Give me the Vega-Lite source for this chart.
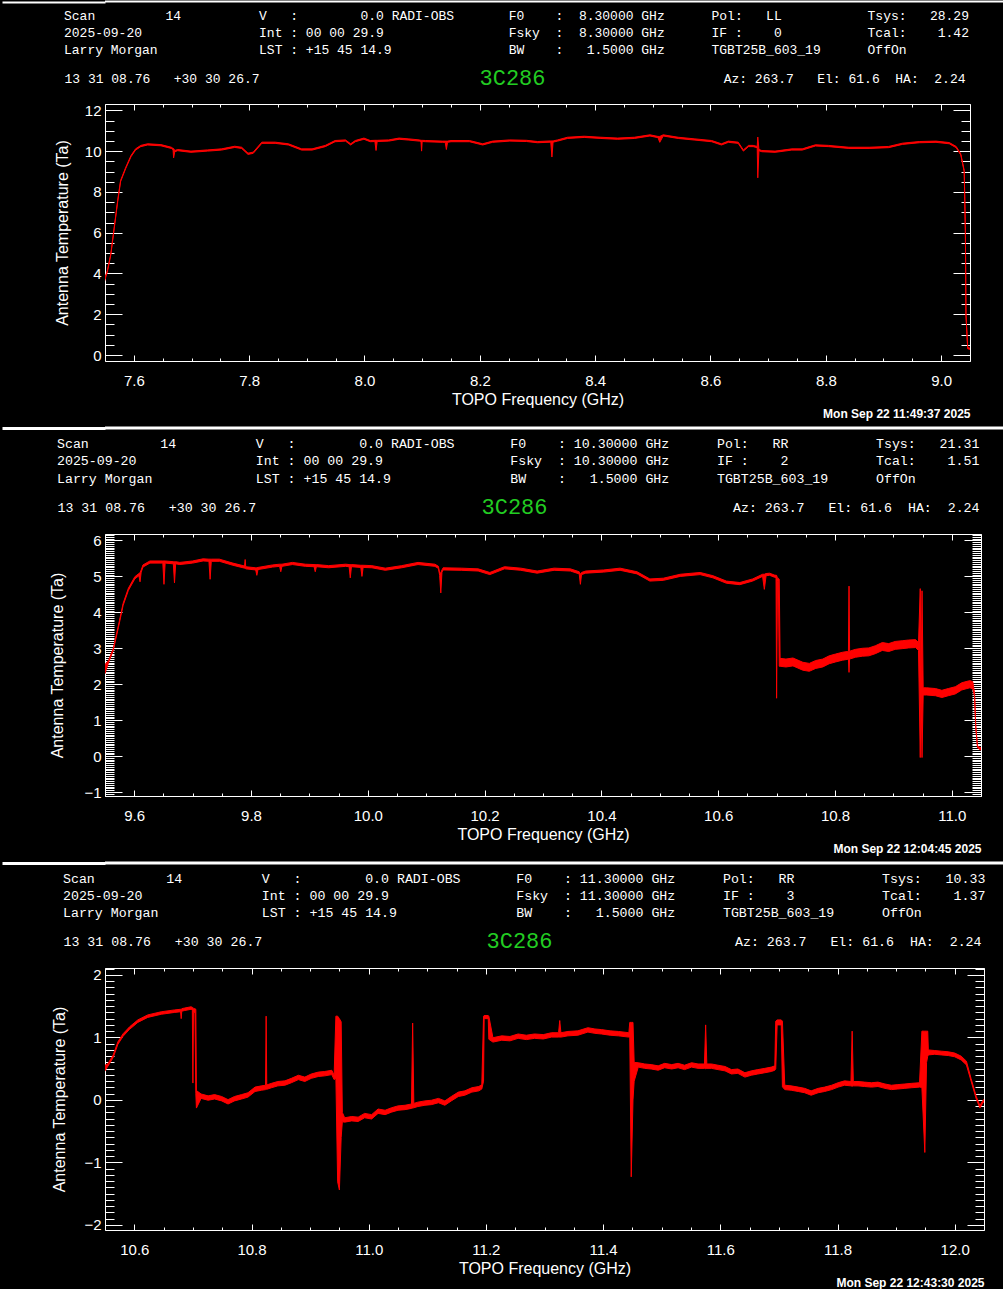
{
  "$schema": "https://vega.github.io/schema/vega-lite/v6.json",
  "background": "black",
  "padding": 0,
  "spacing": 6,
  "config": {
    "view": {"stroke": "white", "strokeWidth": 1},
    "axis": {"labelColor": "white", "titleColor": "white", "tickColor": "white", "domain": false, "grid": false, "labelFont": "Liberation Sans", "labelFontSize": 15, "titleFont": "Liberation Sans", "titleFontSize": 16, "titleFontWeight": "normal", "labelFlush": false, "labelOverlap": false, "tickWidth": 1}
  },
  "datasets": {
    "p1": [
      {"f": 7.549, "lo": 3.60, "hi": 3.75}, {"f": 7.554, "lo": 4.07, "hi": 4.13}, {"f": 7.560, "lo": 4.90, "hi": 4.96}, {"f": 7.566, "lo": 6.21, "hi": 6.27}, {"f": 7.572, "lo": 7.52, "hi": 7.58}, {"f": 7.577, "lo": 8.50, "hi": 8.56}, {"f": 7.586, "lo": 9.15, "hi": 9.21}, {"f": 7.595, "lo": 9.72, "hi": 9.78}, {"f": 7.603, "lo": 10.05, "hi": 10.11}, {"f": 7.612, "lo": 10.22, "hi": 10.28}, {"f": 7.624, "lo": 10.30, "hi": 10.36}, {"f": 7.647, "lo": 10.26, "hi": 10.32}, {"f": 7.665, "lo": 10.13, "hi": 10.19}, {"f": 7.668, "lo": 10.07, "hi": 10.13}, {"f": 7.669, "lo": 9.67, "hi": 10.13}, {"f": 7.671, "lo": 9.97, "hi": 10.03}, {"f": 7.676, "lo": 10.02, "hi": 10.08}, {"f": 7.699, "lo": 9.94, "hi": 10.00}, {"f": 7.728, "lo": 10.00, "hi": 10.06}, {"f": 7.752, "lo": 10.05, "hi": 10.11}, {"f": 7.775, "lo": 10.18, "hi": 10.24}, {"f": 7.787, "lo": 10.13, "hi": 10.19}, {"f": 7.798, "lo": 9.84, "hi": 9.90}, {"f": 7.807, "lo": 9.89, "hi": 9.95}, {"f": 7.822, "lo": 10.38, "hi": 10.44}, {"f": 7.845, "lo": 10.38, "hi": 10.44}, {"f": 7.868, "lo": 10.30, "hi": 10.36}, {"f": 7.891, "lo": 10.05, "hi": 10.11}, {"f": 7.909, "lo": 10.05, "hi": 10.11}, {"f": 7.932, "lo": 10.22, "hi": 10.28}, {"f": 7.949, "lo": 10.46, "hi": 10.52}, {"f": 7.967, "lo": 10.49, "hi": 10.55}, {"f": 7.976, "lo": 10.30, "hi": 10.36}, {"f": 7.984, "lo": 10.46, "hi": 10.52}, {"f": 7.999, "lo": 10.58, "hi": 10.64}, {"f": 8.010, "lo": 10.46, "hi": 10.52}, {"f": 8.018, "lo": 10.47, "hi": 10.53}, {"f": 8.020, "lo": 10.03, "hi": 10.53}, {"f": 8.022, "lo": 10.47, "hi": 10.53}, {"f": 8.042, "lo": 10.49, "hi": 10.55}, {"f": 8.060, "lo": 10.58, "hi": 10.64}, {"f": 8.077, "lo": 10.54, "hi": 10.60}, {"f": 8.095, "lo": 10.49, "hi": 10.55}, {"f": 8.098, "lo": 10.47, "hi": 10.53}, {"f": 8.099, "lo": 10.00, "hi": 10.53}, {"f": 8.100, "lo": 10.47, "hi": 10.53}, {"f": 8.106, "lo": 10.46, "hi": 10.52}, {"f": 8.135, "lo": 10.43, "hi": 10.49}, {"f": 8.140, "lo": 10.43, "hi": 10.49}, {"f": 8.142, "lo": 10.08, "hi": 10.49}, {"f": 8.144, "lo": 10.43, "hi": 10.49}, {"f": 8.150, "lo": 10.46, "hi": 10.52}, {"f": 8.182, "lo": 10.46, "hi": 10.52}, {"f": 8.205, "lo": 10.30, "hi": 10.36}, {"f": 8.222, "lo": 10.43, "hi": 10.49}, {"f": 8.252, "lo": 10.49, "hi": 10.55}, {"f": 8.281, "lo": 10.47, "hi": 10.53}, {"f": 8.300, "lo": 10.41, "hi": 10.47}, {"f": 8.323, "lo": 10.44, "hi": 10.50}, {"f": 8.325, "lo": 9.71, "hi": 10.50}, {"f": 8.327, "lo": 10.44, "hi": 10.50}, {"f": 8.335, "lo": 10.49, "hi": 10.55}, {"f": 8.352, "lo": 10.62, "hi": 10.68}, {"f": 8.381, "lo": 10.67, "hi": 10.73}, {"f": 8.410, "lo": 10.62, "hi": 10.68}, {"f": 8.439, "lo": 10.58, "hi": 10.64}, {"f": 8.468, "lo": 10.62, "hi": 10.68}, {"f": 8.495, "lo": 10.74, "hi": 10.80}, {"f": 8.509, "lo": 10.66, "hi": 10.72}, {"f": 8.512, "lo": 10.43, "hi": 10.72}, {"f": 8.518, "lo": 10.74, "hi": 10.80}, {"f": 8.544, "lo": 10.62, "hi": 10.68}, {"f": 8.573, "lo": 10.54, "hi": 10.60}, {"f": 8.602, "lo": 10.46, "hi": 10.52}, {"f": 8.619, "lo": 10.30, "hi": 10.36}, {"f": 8.631, "lo": 10.43, "hi": 10.49}, {"f": 8.648, "lo": 10.38, "hi": 10.44}, {"f": 8.657, "lo": 10.00, "hi": 10.06}, {"f": 8.666, "lo": 10.22, "hi": 10.28}, {"f": 8.674, "lo": 10.22, "hi": 10.28}, {"f": 8.681, "lo": 10.17, "hi": 10.23}, {"f": 8.682, "lo": 8.69, "hi": 10.69}, {"f": 8.684, "lo": 10.02, "hi": 10.08}, {"f": 8.689, "lo": 9.97, "hi": 10.03}, {"f": 8.712, "lo": 9.94, "hi": 10.00}, {"f": 8.741, "lo": 10.05, "hi": 10.11}, {"f": 8.759, "lo": 10.05, "hi": 10.11}, {"f": 8.782, "lo": 10.25, "hi": 10.31}, {"f": 8.805, "lo": 10.22, "hi": 10.28}, {"f": 8.840, "lo": 10.13, "hi": 10.19}, {"f": 8.875, "lo": 10.13, "hi": 10.19}, {"f": 8.909, "lo": 10.17, "hi": 10.23}, {"f": 8.933, "lo": 10.33, "hi": 10.39}, {"f": 8.962, "lo": 10.41, "hi": 10.47}, {"f": 8.991, "lo": 10.43, "hi": 10.49}, {"f": 9.014, "lo": 10.36, "hi": 10.42}, {"f": 9.026, "lo": 10.17, "hi": 10.23}, {"f": 9.034, "lo": 9.81, "hi": 9.87}, {"f": 9.040, "lo": 8.99, "hi": 9.05}, {"f": 9.042, "lo": 6.04, "hi": 6.10}, {"f": 9.043, "lo": 1.95, "hi": 2.01}, {"f": 9.046, "lo": 0.31, "hi": 0.37}, {"f": 9.050, "lo": 0.28, "hi": 0.34}
    ],
    "p2": [
      {"f": 9.550, "lo": 2.30, "hi": 2.55}, {"f": 9.556, "lo": 2.60, "hi": 2.66}, {"f": 9.564, "lo": 2.93, "hi": 2.99}, {"f": 9.573, "lo": 3.58, "hi": 3.64}, {"f": 9.581, "lo": 4.19, "hi": 4.25}, {"f": 9.590, "lo": 4.61, "hi": 4.67}, {"f": 9.601, "lo": 4.93, "hi": 4.99}, {"f": 9.608, "lo": 5.02, "hi": 5.08}, {"f": 9.610, "lo": 4.85, "hi": 5.10}, {"f": 9.612, "lo": 5.12, "hi": 5.18}, {"f": 9.615, "lo": 5.26, "hi": 5.32}, {"f": 9.627, "lo": 5.37, "hi": 5.43}, {"f": 9.649, "lo": 5.37, "hi": 5.43}, {"f": 9.651, "lo": 4.78, "hi": 5.43}, {"f": 9.653, "lo": 5.37, "hi": 5.43}, {"f": 9.667, "lo": 5.35, "hi": 5.41}, {"f": 9.669, "lo": 4.82, "hi": 5.41}, {"f": 9.671, "lo": 5.35, "hi": 5.41}, {"f": 9.678, "lo": 5.33, "hi": 5.39}, {"f": 9.700, "lo": 5.37, "hi": 5.43}, {"f": 9.718, "lo": 5.43, "hi": 5.49}, {"f": 9.728, "lo": 5.42, "hi": 5.48}, {"f": 9.730, "lo": 4.92, "hi": 5.48}, {"f": 9.732, "lo": 5.42, "hi": 5.48}, {"f": 9.746, "lo": 5.42, "hi": 5.48}, {"f": 9.769, "lo": 5.31, "hi": 5.37}, {"f": 9.789, "lo": 5.23, "hi": 5.29}, {"f": 9.790, "lo": 5.23, "hi": 5.47}, {"f": 9.791, "lo": 5.21, "hi": 5.27}, {"f": 9.808, "lo": 5.18, "hi": 5.24}, {"f": 9.810, "lo": 5.03, "hi": 5.24}, {"f": 9.812, "lo": 5.19, "hi": 5.25}, {"f": 9.837, "lo": 5.26, "hi": 5.32}, {"f": 9.849, "lo": 5.28, "hi": 5.34}, {"f": 9.851, "lo": 5.13, "hi": 5.34}, {"f": 9.853, "lo": 5.28, "hi": 5.34}, {"f": 9.871, "lo": 5.33, "hi": 5.39}, {"f": 9.893, "lo": 5.28, "hi": 5.34}, {"f": 9.908, "lo": 5.27, "hi": 5.33}, {"f": 9.910, "lo": 5.13, "hi": 5.33}, {"f": 9.912, "lo": 5.27, "hi": 5.33}, {"f": 9.933, "lo": 5.24, "hi": 5.30}, {"f": 9.962, "lo": 5.28, "hi": 5.34}, {"f": 9.968, "lo": 5.27, "hi": 5.33}, {"f": 9.970, "lo": 4.96, "hi": 5.33}, {"f": 9.972, "lo": 5.27, "hi": 5.33}, {"f": 9.988, "lo": 5.25, "hi": 5.31}, {"f": 9.990, "lo": 5.00, "hi": 5.31}, {"f": 9.992, "lo": 5.25, "hi": 5.31}, {"f": 10.007, "lo": 5.24, "hi": 5.30}, {"f": 10.030, "lo": 5.17, "hi": 5.23}, {"f": 10.058, "lo": 5.24, "hi": 5.30}, {"f": 10.086, "lo": 5.33, "hi": 5.39}, {"f": 10.115, "lo": 5.28, "hi": 5.34}, {"f": 10.121, "lo": 5.22, "hi": 5.28}, {"f": 10.123, "lo": 5.03, "hi": 5.09}, {"f": 10.125, "lo": 4.54, "hi": 5.10}, {"f": 10.127, "lo": 5.12, "hi": 5.18}, {"f": 10.129, "lo": 5.18, "hi": 5.24}, {"f": 10.160, "lo": 5.17, "hi": 5.23}, {"f": 10.189, "lo": 5.15, "hi": 5.21}, {"f": 10.209, "lo": 5.05, "hi": 5.11}, {"f": 10.234, "lo": 5.21, "hi": 5.27}, {"f": 10.262, "lo": 5.17, "hi": 5.23}, {"f": 10.290, "lo": 5.09, "hi": 5.15}, {"f": 10.319, "lo": 5.17, "hi": 5.23}, {"f": 10.347, "lo": 5.15, "hi": 5.21}, {"f": 10.362, "lo": 5.07, "hi": 5.13}, {"f": 10.364, "lo": 4.78, "hi": 5.06}, {"f": 10.366, "lo": 5.05, "hi": 5.11}, {"f": 10.373, "lo": 5.09, "hi": 5.15}, {"f": 10.404, "lo": 5.12, "hi": 5.18}, {"f": 10.432, "lo": 5.17, "hi": 5.23}, {"f": 10.461, "lo": 5.07, "hi": 5.13}, {"f": 10.483, "lo": 4.87, "hi": 4.93}, {"f": 10.506, "lo": 4.89, "hi": 4.95}, {"f": 10.535, "lo": 5.00, "hi": 5.06}, {"f": 10.569, "lo": 5.05, "hi": 5.11}, {"f": 10.591, "lo": 4.96, "hi": 5.02}, {"f": 10.614, "lo": 4.81, "hi": 4.87}, {"f": 10.637, "lo": 4.77, "hi": 4.83}, {"f": 10.659, "lo": 4.87, "hi": 4.93}, {"f": 10.676, "lo": 5.00, "hi": 5.06}, {"f": 10.679, "lo": 4.64, "hi": 5.06}, {"f": 10.682, "lo": 5.02, "hi": 5.08}, {"f": 10.688, "lo": 5.03, "hi": 5.09}, {"f": 10.696, "lo": 4.98, "hi": 5.04}, {"f": 10.699, "lo": 4.97, "hi": 5.03}, {"f": 10.700, "lo": 1.61, "hi": 5.03}, {"f": 10.7015, "lo": 4.85, "hi": 4.95}, {"f": 10.703, "lo": 4.85, "hi": 4.95}, {"f": 10.7045, "lo": 2.50, "hi": 4.92}, {"f": 10.706, "lo": 2.50, "hi": 2.72}, {"f": 10.716, "lo": 2.48, "hi": 2.70}, {"f": 10.728, "lo": 2.51, "hi": 2.73}, {"f": 10.745, "lo": 2.39, "hi": 2.61}, {"f": 10.756, "lo": 2.36, "hi": 2.58}, {"f": 10.767, "lo": 2.44, "hi": 2.66}, {"f": 10.779, "lo": 2.48, "hi": 2.70}, {"f": 10.790, "lo": 2.57, "hi": 2.79}, {"f": 10.801, "lo": 2.62, "hi": 2.84}, {"f": 10.813, "lo": 2.67, "hi": 2.89}, {"f": 10.821, "lo": 2.69, "hi": 2.91}, {"f": 10.823, "lo": 2.69, "hi": 2.91}, {"f": 10.824, "lo": 2.33, "hi": 4.73}, {"f": 10.825, "lo": 2.70, "hi": 2.92}, {"f": 10.827, "lo": 2.71, "hi": 2.93}, {"f": 10.835, "lo": 2.75, "hi": 2.97}, {"f": 10.847, "lo": 2.78, "hi": 3.00}, {"f": 10.858, "lo": 2.79, "hi": 3.01}, {"f": 10.869, "lo": 2.85, "hi": 3.07}, {"f": 10.881, "lo": 2.94, "hi": 3.16}, {"f": 10.892, "lo": 2.91, "hi": 3.13}, {"f": 10.903, "lo": 2.97, "hi": 3.19}, {"f": 10.915, "lo": 2.99, "hi": 3.21}, {"f": 10.926, "lo": 3.01, "hi": 3.23}, {"f": 10.938, "lo": 3.02, "hi": 3.24}, {"f": 10.943, "lo": 2.94, "hi": 3.16}, {"f": 10.946, "lo": -0.04, "hi": 4.66}, {"f": 10.9475, "lo": 1.80, "hi": 2.00}, {"f": 10.949, "lo": -0.04, "hi": 4.60}, {"f": 10.951, "lo": 1.70, "hi": 1.90}, {"f": 10.957, "lo": 1.70, "hi": 1.90}, {"f": 10.972, "lo": 1.68, "hi": 1.88}, {"f": 10.983, "lo": 1.63, "hi": 1.83}, {"f": 10.994, "lo": 1.68, "hi": 1.88}, {"f": 11.006, "lo": 1.73, "hi": 1.93}, {"f": 11.017, "lo": 1.84, "hi": 2.04}, {"f": 11.026, "lo": 1.88, "hi": 2.08}, {"f": 11.031, "lo": 1.90, "hi": 2.10}, {"f": 11.036, "lo": 1.87, "hi": 2.07}, {"f": 11.039, "lo": 1.65, "hi": 1.75}, {"f": 11.041, "lo": 0.79, "hi": 0.85}, {"f": 11.044, "lo": 0.23, "hi": 0.29}, {"f": 11.048, "lo": 0.18, "hi": 0.24}, {"f": 11.050, "lo": 0.17, "hi": 0.23}
    ],
    "p3": [
      {"f": 10.549, "lo": 0.45, "hi": 0.55}, {"f": 10.555, "lo": 0.54, "hi": 0.58}, {"f": 10.564, "lo": 0.68, "hi": 0.72}, {"f": 10.572, "lo": 0.89, "hi": 0.93}, {"f": 10.581, "lo": 1.02, "hi": 1.06}, {"f": 10.592, "lo": 1.13, "hi": 1.17}, {"f": 10.606, "lo": 1.24, "hi": 1.28}, {"f": 10.623, "lo": 1.32, "hi": 1.36}, {"f": 10.646, "lo": 1.37, "hi": 1.41}, {"f": 10.669, "lo": 1.40, "hi": 1.44}, {"f": 10.679, "lo": 1.41, "hi": 1.45}, {"f": 10.680, "lo": 1.30, "hi": 1.45}, {"f": 10.681, "lo": 1.42, "hi": 1.46}, {"f": 10.686, "lo": 1.43, "hi": 1.47}, {"f": 10.697, "lo": 1.45, "hi": 1.49}, {"f": 10.699, "lo": 1.44, "hi": 1.48}, {"f": 10.700, "lo": 0.27, "hi": 1.48}, {"f": 10.701, "lo": 1.40, "hi": 1.46}, {"f": 10.7035, "lo": 1.40, "hi": 1.46}, {"f": 10.705, "lo": 0.10, "hi": 1.45}, {"f": 10.706, "lo": -0.13, "hi": 0.15},
      {"f": 10.714, "lo": 0.025, "hi": 0.095}, {"f": 10.726, "lo": -0.005, "hi": 0.065}, {"f": 10.737, "lo": 0.015, "hi": 0.085}, {"f": 10.749, "lo": -0.015, "hi": 0.055}, {"f": 10.760, "lo": -0.065, "hi": 0.005}, {"f": 10.771, "lo": -0.015, "hi": 0.055}, {"f": 10.783, "lo": 0.015, "hi": 0.085}, {"f": 10.794, "lo": 0.045, "hi": 0.115}, {"f": 10.806, "lo": 0.135, "hi": 0.205}, {"f": 10.817, "lo": 0.155, "hi": 0.225}, {"f": 10.824, "lo": 0.165, "hi": 0.235}, {"f": 10.825, "lo": 0.17, "hi": 1.34}, {"f": 10.826, "lo": 0.17, "hi": 0.24}, {"f": 10.834, "lo": 0.195, "hi": 0.265}, {"f": 10.845, "lo": 0.225, "hi": 0.295}, {"f": 10.857, "lo": 0.235, "hi": 0.305}, {"f": 10.868, "lo": 0.275, "hi": 0.345}, {"f": 10.880, "lo": 0.325, "hi": 0.395}, {"f": 10.891, "lo": 0.295, "hi": 0.365}, {"f": 10.902, "lo": 0.345, "hi": 0.415}, {"f": 10.914, "lo": 0.375, "hi": 0.445}, {"f": 10.925, "lo": 0.385, "hi": 0.455}, {"f": 10.937, "lo": 0.405, "hi": 0.475}, {"f": 10.941, "lo": 0.325, "hi": 0.395},
      {"f": 10.944, "lo": 0.35, "hi": 1.34}, {"f": 10.947, "lo": -1.31, "hi": 1.34}, {"f": 10.950, "lo": -1.44, "hi": 1.30}, {"f": 10.953, "lo": -0.60, "hi": 1.25}, {"f": 10.955, "lo": -0.35, "hi": -0.20},
      {"f": 10.959, "lo": -0.355, "hi": -0.285}, {"f": 10.971, "lo": -0.335, "hi": -0.265}, {"f": 10.982, "lo": -0.345, "hi": -0.275}, {"f": 10.993, "lo": -0.285, "hi": -0.215}, {"f": 11.005, "lo": -0.305, "hi": -0.235}, {"f": 11.016, "lo": -0.215, "hi": -0.145}, {"f": 11.028, "lo": -0.235, "hi": -0.165}, {"f": 11.039, "lo": -0.195, "hi": -0.125}, {"f": 11.050, "lo": -0.165, "hi": -0.095}, {"f": 11.062, "lo": -0.155, "hi": -0.085}, {"f": 11.073, "lo": -0.135, "hi": -0.065}, {"f": 11.075, "lo": -0.13, "hi": 1.23}, {"f": 11.077, "lo": -0.125, "hi": -0.055}, {"f": 11.084, "lo": -0.105, "hi": -0.035}, {"f": 11.096, "lo": -0.085, "hi": -0.015}, {"f": 11.107, "lo": -0.075, "hi": -0.005}, {"f": 11.119, "lo": -0.045, "hi": 0.025}, {"f": 11.130, "lo": -0.085, "hi": -0.015}, {"f": 11.141, "lo": -0.015, "hi": 0.055}, {"f": 11.153, "lo": 0.055, "hi": 0.125}, {"f": 11.164, "lo": 0.075, "hi": 0.145}, {"f": 11.176, "lo": 0.125, "hi": 0.195}, {"f": 11.188, "lo": 0.145, "hi": 0.215}, {"f": 11.193, "lo": 0.175, "hi": 0.245},
      {"f": 11.196, "lo": 0.30, "hi": 1.34}, {"f": 11.197, "lo": 1.30, "hi": 1.35}, {"f": 11.204, "lo": 1.30, "hi": 1.35}, {"f": 11.205, "lo": 0.97, "hi": 1.34},
      {"f": 11.212, "lo": 0.925, "hi": 0.995}, {"f": 11.227, "lo": 0.955, "hi": 1.025}, {"f": 11.241, "lo": 0.945, "hi": 1.015}, {"f": 11.255, "lo": 0.985, "hi": 1.055}, {"f": 11.269, "lo": 0.965, "hi": 1.035}, {"f": 11.283, "lo": 0.985, "hi": 1.055}, {"f": 11.298, "lo": 0.975, "hi": 1.045}, {"f": 11.312, "lo": 1.005, "hi": 1.075}, {"f": 11.324, "lo": 1.005, "hi": 1.075}, {"f": 11.326, "lo": 1.005, "hi": 1.27}, {"f": 11.328, "lo": 1.005, "hi": 1.075}, {"f": 11.340, "lo": 1.025, "hi": 1.095}, {"f": 11.357, "lo": 1.035, "hi": 1.105}, {"f": 11.374, "lo": 1.085, "hi": 1.155}, {"f": 11.386, "lo": 1.065, "hi": 1.135}, {"f": 11.397, "lo": 1.055, "hi": 1.125}, {"f": 11.412, "lo": 1.035, "hi": 1.105}, {"f": 11.426, "lo": 1.025, "hi": 1.095}, {"f": 11.444, "lo": 1.005, "hi": 1.075},
      {"f": 11.4455, "lo": 1.005, "hi": 1.24}, {"f": 11.448, "lo": -1.23, "hi": 1.24}, {"f": 11.451, "lo": 0.00, "hi": 1.24}, {"f": 11.453, "lo": 0.30, "hi": 0.60},
      {"f": 11.460, "lo": 0.525, "hi": 0.595}, {"f": 11.471, "lo": 0.505, "hi": 0.575}, {"f": 11.482, "lo": 0.495, "hi": 0.565}, {"f": 11.494, "lo": 0.475, "hi": 0.545}, {"f": 11.505, "lo": 0.515, "hi": 0.585}, {"f": 11.517, "lo": 0.495, "hi": 0.565}, {"f": 11.528, "lo": 0.515, "hi": 0.585}, {"f": 11.539, "lo": 0.485, "hi": 0.555}, {"f": 11.551, "lo": 0.525, "hi": 0.595}, {"f": 11.562, "lo": 0.505, "hi": 0.575}, {"f": 11.573, "lo": 0.505, "hi": 0.575}, {"f": 11.575, "lo": 0.50, "hi": 1.20}, {"f": 11.577, "lo": 0.505, "hi": 0.575}, {"f": 11.585, "lo": 0.505, "hi": 0.575}, {"f": 11.596, "lo": 0.485, "hi": 0.555}, {"f": 11.608, "lo": 0.465, "hi": 0.535}, {"f": 11.619, "lo": 0.415, "hi": 0.485}, {"f": 11.630, "lo": 0.425, "hi": 0.495}, {"f": 11.642, "lo": 0.365, "hi": 0.435}, {"f": 11.653, "lo": 0.395, "hi": 0.465}, {"f": 11.664, "lo": 0.415, "hi": 0.485}, {"f": 11.676, "lo": 0.435, "hi": 0.505}, {"f": 11.687, "lo": 0.455, "hi": 0.525}, {"f": 11.693, "lo": 0.475, "hi": 0.545},
      {"f": 11.6946, "lo": 0.50, "hi": 1.26}, {"f": 11.697, "lo": 1.20, "hi": 1.28}, {"f": 11.704, "lo": 1.20, "hi": 1.28}, {"f": 11.706, "lo": 0.21, "hi": 1.26},
      {"f": 11.710, "lo": 0.165, "hi": 0.235}, {"f": 11.721, "lo": 0.155, "hi": 0.225}, {"f": 11.733, "lo": 0.135, "hi": 0.205}, {"f": 11.744, "lo": 0.115, "hi": 0.185}, {"f": 11.755, "lo": 0.075, "hi": 0.145}, {"f": 11.767, "lo": 0.115, "hi": 0.185}, {"f": 11.778, "lo": 0.135, "hi": 0.205}, {"f": 11.790, "lo": 0.165, "hi": 0.235}, {"f": 11.801, "lo": 0.205, "hi": 0.275}, {"f": 11.812, "lo": 0.235, "hi": 0.305}, {"f": 11.823, "lo": 0.225, "hi": 0.295}, {"f": 11.825, "lo": 0.22, "hi": 1.10}, {"f": 11.827, "lo": 0.225, "hi": 0.295}, {"f": 11.835, "lo": 0.225, "hi": 0.295}, {"f": 11.846, "lo": 0.215, "hi": 0.285}, {"f": 11.858, "lo": 0.205, "hi": 0.275}, {"f": 11.869, "lo": 0.215, "hi": 0.285}, {"f": 11.881, "lo": 0.185, "hi": 0.255}, {"f": 11.892, "lo": 0.165, "hi": 0.235}, {"f": 11.903, "lo": 0.175, "hi": 0.245}, {"f": 11.915, "lo": 0.185, "hi": 0.255}, {"f": 11.926, "lo": 0.195, "hi": 0.265}, {"f": 11.940, "lo": 0.205, "hi": 0.275},
      {"f": 11.944, "lo": 0.20, "hi": 1.10}, {"f": 11.949, "lo": -0.84, "hi": 1.10}, {"f": 11.952, "lo": 0.60, "hi": 1.10}, {"f": 11.954, "lo": 0.70, "hi": 1.10}, {"f": 11.955, "lo": 0.72, "hi": 0.80},
      {"f": 11.966, "lo": 0.73, "hi": 0.79}, {"f": 11.977, "lo": 0.72, "hi": 0.78}, {"f": 11.989, "lo": 0.71, "hi": 0.77}, {"f": 12.000, "lo": 0.69, "hi": 0.75}, {"f": 12.011, "lo": 0.64, "hi": 0.70}, {"f": 12.020, "lo": 0.56, "hi": 0.62}, {"f": 12.028, "lo": 0.30, "hi": 0.34}, {"f": 12.037, "lo": 0.01, "hi": 0.05}, {"f": 12.043, "lo": -0.13, "hi": -0.09}, {"f": 12.048, "lo": -0.05, "hi": -0.01}, {"f": 12.050, "lo": -0.03, "hi": 0.01}
    ]
  },
  "vconcat": [
    {
      "width": 900, "height": 1,
      "view": {"stroke": null},
      "data": {"values": [{}]},
      "mark": {"type": "rule", "color": "white", "strokeWidth": 2},
      "encoding": {"y": {"datum": 0, "type": "quantitative", "scale": {"domain": [-1, 1]}, "axis": {"orient": "left", "values": [0], "labels": false, "domain": false, "tickSize": 103, "tickWidth": 2, "tickColor": "white", "title": null}}}
    },
    {
      "width": 865, "height": 257,
      "title": {
        "text": [
          "Scan\u00a0\u00a0\u00a0\u00a0\u00a0\u00a0\u00a0\u00a0\u00a014\u00a0\u00a0\u00a0\u00a0\u00a0\u00a0\u00a0\u00a0\u00a0\u00a0V\u00a0\u00a0\u00a0:\u00a0\u00a0\u00a0\u00a0\u00a0\u00a0\u00a0\u00a00.0 RADI-OBS\u00a0\u00a0\u00a0\u00a0\u00a0\u00a0\u00a0F0\u00a0\u00a0\u00a0\u00a0:\u00a0\u00a08.30000 GHz\u00a0\u00a0\u00a0\u00a0\u00a0\u00a0Pol:\u00a0\u00a0\u00a0LL\u00a0\u00a0\u00a0\u00a0\u00a0\u00a0\u00a0\u00a0\u00a0\u00a0\u00a0Tsys:\u00a0\u00a0\u00a028.29",
          "2025-09-20\u00a0\u00a0\u00a0\u00a0\u00a0\u00a0\u00a0\u00a0\u00a0\u00a0\u00a0\u00a0\u00a0\u00a0\u00a0Int\u00a0:\u00a000 00 29.9\u00a0\u00a0\u00a0\u00a0\u00a0\u00a0\u00a0\u00a0\u00a0\u00a0\u00a0\u00a0\u00a0\u00a0\u00a0\u00a0Fsky\u00a0\u00a0:\u00a0\u00a08.30000 GHz\u00a0\u00a0\u00a0\u00a0\u00a0\u00a0IF\u00a0:\u00a0\u00a0\u00a0\u00a00\u00a0\u00a0\u00a0\u00a0\u00a0\u00a0\u00a0\u00a0\u00a0\u00a0\u00a0Tcal:\u00a0\u00a0\u00a0\u00a01.42",
          "Larry Morgan\u00a0\u00a0\u00a0\u00a0\u00a0\u00a0\u00a0\u00a0\u00a0\u00a0\u00a0\u00a0\u00a0LST\u00a0:\u00a0+15 45 14.9\u00a0\u00a0\u00a0\u00a0\u00a0\u00a0\u00a0\u00a0\u00a0\u00a0\u00a0\u00a0\u00a0\u00a0\u00a0BW\u00a0\u00a0\u00a0\u00a0:\u00a0\u00a0\u00a01.5000 GHz\u00a0\u00a0\u00a0\u00a0\u00a0\u00a0TGBT25B_603_19\u00a0\u00a0\u00a0\u00a0\u00a0\u00a0OffOn"
        ],
        "anchor": "start", "frame": "group", "dx": -41, "offset": 9,
        "font": "Liberation Mono", "fontSize": 13, "fontWeight": "normal", "color": "white", "lineHeight": 17
      },
      "layer": [
        {
          "data": {"name": "p1"},
          "mark": {"type": "area", "color": "#ff0000", "stroke": "#ff0000", "strokeWidth": 1, "clip": true},
          "encoding": {
            "x": {"field": "f", "type": "quantitative", "scale": {"domain": [7.55, 9.05], "nice": false, "zero": false}, "axis": {"orient": "bottom", "values": [7.6, 7.8, 8.0, 8.2, 8.4, 8.6, 8.8, 9.0], "format": ".1f", "ticks": false, "labelPadding": 12, "title": "TOPO Frequency (GHz)", "titlePadding": 3}},
            "y": {"field": "lo", "type": "quantitative", "scale": {"domain": [-0.29, 12.31], "nice": false, "zero": false}, "axis": {"orient": "left", "values": [0, 2, 4, 6, 8, 10, 12], "format": "d", "ticks": false, "labelPadding": 4, "title": "Antenna Temperature (Ta)", "titlePadding": 14}},
            "y2": {"field": "hi"}
          }
        },
        {
          "data": {"values": [{}]},
          "mark": {"type": "point", "opacity": 0},
          "encoding": {
            "x": {"datum": 8.3, "type": "quantitative", "scale": {"domain": [7.55, 9.05], "nice": false, "zero": false}, "axis": {"orient": "bottom", "values": [7.6, 7.8, 8.0, 8.2, 8.4, 8.6, 8.8, 9.0], "labels": false, "tickSize": -6, "title": null}},
            "y": {"datum": 5, "type": "quantitative", "scale": {"domain": [-0.29, 12.31], "nice": false, "zero": false}, "axis": {"orient": "left", "values": [0, 2, 4, 6, 8, 10, 12], "labels": false, "tickSize": -17, "title": null}}
          }
        },
        {
          "data": {"values": [{}]},
          "mark": {"type": "point", "opacity": 0},
          "encoding": {
            "x": {"datum": 8.3, "type": "quantitative", "scale": {"domain": [7.55, 9.05], "nice": false, "zero": false}, "axis": {"orient": "bottom", "tickCount": 30, "labels": false, "tickSize": -3, "title": "Mon Sep 22 11:49:37 2025", "titleAnchor": "end", "titleFontSize": 12, "titleFontWeight": "bold", "titlePadding": 47}},
            "y": {"datum": 5, "type": "quantitative", "scale": {"domain": [-0.29, 12.31], "nice": false, "zero": false}, "axis": {"orient": "left", "tickCount": 25, "labels": false, "tickSize": -9, "title": null}}
          }
        },
        {
          "data": {"values": [{}]},
          "mark": {"type": "point", "opacity": 0},
          "encoding": {
            "x": {"datum": 8.3, "type": "quantitative", "scale": {"domain": [7.55, 9.05], "nice": false, "zero": false}, "axis": {"orient": "top", "values": [7.6, 7.8, 8.0, 8.2, 8.4, 8.6, 8.8, 9.0], "labels": false, "tickSize": -6, "title": "13 31 08.76\u00a0\u00a0\u00a0+30 30 26.7", "titleFont": "Liberation Mono", "titleFontSize": 13, "titleX": -41, "titleAlign": "left", "titleBaseline": "alphabetic", "titlePadding": 21}},
            "y": {"datum": 5, "type": "quantitative", "scale": {"domain": [-0.29, 12.31], "nice": false, "zero": false}, "axis": {"orient": "right", "values": [0, 2, 4, 6, 8, 10, 12], "labels": false, "tickSize": -17, "title": null}}
          }
        },
        {
          "data": {"values": [{}]},
          "mark": {"type": "point", "opacity": 0},
          "encoding": {
            "x": {"datum": 8.3, "type": "quantitative", "scale": {"domain": [7.55, 9.05], "nice": false, "zero": false}, "axis": {"orient": "top", "tickCount": 30, "labels": false, "tickSize": -3, "title": "Az:\u00a0263.7\u00a0\u00a0\u00a0El:\u00a061.6\u00a0\u00a0HA:\u00a0\u00a02.24", "titleFont": "Liberation Mono", "titleFontSize": 13, "titleX": 860, "titleAlign": "right", "titleBaseline": "alphabetic", "titlePadding": 21}},
            "y": {"datum": 5, "type": "quantitative", "scale": {"domain": [-0.29, 12.31], "nice": false, "zero": false}, "axis": {"orient": "right", "tickCount": 25, "labels": false, "tickSize": -9, "title": null}}
          }
        },
        {
          "data": {"values": [{}]},
          "mark": {"type": "point", "opacity": 0},
          "encoding": {
            "x": {"datum": 8.3, "type": "quantitative", "scale": {"domain": [7.55, 9.05], "nice": false, "zero": false}, "axis": {"orient": "top", "ticks": false, "labels": false, "title": "3C286", "titleColor": "#22cc22", "titleFont": "Liberation Mono", "titleFontSize": 22, "titleX": 407, "titleAlign": "center", "titleBaseline": "alphabetic", "titlePadding": 20}}
          }
        }
      ],
      "resolve": {"axis": {"x": "independent", "y": "independent"}}
    },
    {
      "width": 900, "height": 2,
      "view": {"stroke": null},
      "data": {"values": [{}]},
      "mark": {"type": "rule", "color": "white", "strokeWidth": 3},
      "encoding": {"y": {"datum": 0, "type": "quantitative", "scale": {"domain": [-1, 1]}, "axis": {"orient": "left", "values": [0], "labels": false, "domain": false, "tickSize": 103, "tickWidth": 3, "tickColor": "white", "title": null}}}
    },
    {
      "width": 876, "height": 262,
      "title": {
        "text": [
          "Scan\u00a0\u00a0\u00a0\u00a0\u00a0\u00a0\u00a0\u00a0\u00a014\u00a0\u00a0\u00a0\u00a0\u00a0\u00a0\u00a0\u00a0\u00a0\u00a0V\u00a0\u00a0\u00a0:\u00a0\u00a0\u00a0\u00a0\u00a0\u00a0\u00a0\u00a00.0 RADI-OBS\u00a0\u00a0\u00a0\u00a0\u00a0\u00a0\u00a0F0\u00a0\u00a0\u00a0\u00a0:\u00a010.30000 GHz\u00a0\u00a0\u00a0\u00a0\u00a0\u00a0Pol:\u00a0\u00a0\u00a0RR\u00a0\u00a0\u00a0\u00a0\u00a0\u00a0\u00a0\u00a0\u00a0\u00a0\u00a0Tsys:\u00a0\u00a0\u00a021.31",
          "2025-09-20\u00a0\u00a0\u00a0\u00a0\u00a0\u00a0\u00a0\u00a0\u00a0\u00a0\u00a0\u00a0\u00a0\u00a0\u00a0Int\u00a0:\u00a000 00 29.9\u00a0\u00a0\u00a0\u00a0\u00a0\u00a0\u00a0\u00a0\u00a0\u00a0\u00a0\u00a0\u00a0\u00a0\u00a0\u00a0Fsky\u00a0\u00a0:\u00a010.30000 GHz\u00a0\u00a0\u00a0\u00a0\u00a0\u00a0IF\u00a0:\u00a0\u00a0\u00a0\u00a02\u00a0\u00a0\u00a0\u00a0\u00a0\u00a0\u00a0\u00a0\u00a0\u00a0\u00a0Tcal:\u00a0\u00a0\u00a0\u00a01.51",
          "Larry Morgan\u00a0\u00a0\u00a0\u00a0\u00a0\u00a0\u00a0\u00a0\u00a0\u00a0\u00a0\u00a0\u00a0LST\u00a0:\u00a0+15 45 14.9\u00a0\u00a0\u00a0\u00a0\u00a0\u00a0\u00a0\u00a0\u00a0\u00a0\u00a0\u00a0\u00a0\u00a0\u00a0BW\u00a0\u00a0\u00a0\u00a0:\u00a0\u00a0\u00a01.5000 GHz\u00a0\u00a0\u00a0\u00a0\u00a0\u00a0TGBT25B_603_19\u00a0\u00a0\u00a0\u00a0\u00a0\u00a0OffOn"
        ],
        "anchor": "start", "frame": "group", "dx": -48, "offset": 9,
        "font": "Liberation Mono", "fontSize": 13.25, "fontWeight": "normal", "color": "white", "lineHeight": 17.5
      },
      "layer": [
        {
          "data": {"name": "p2"},
          "mark": {"type": "area", "color": "#ff0000", "stroke": "#ff0000", "strokeWidth": 1, "clip": true},
          "encoding": {
            "x": {"field": "f", "type": "quantitative", "scale": {"domain": [9.55, 11.05], "nice": false, "zero": false}, "axis": {"orient": "bottom", "values": [9.6, 9.8, 10.0, 10.2, 10.4, 10.6, 10.8, 11.0], "format": ".1f", "ticks": false, "labelPadding": 12, "title": "TOPO Frequency (GHz)", "titlePadding": 3}},
            "y": {"field": "lo", "type": "quantitative", "scale": {"domain": [-1.11, 6.18], "nice": false, "zero": false}, "axis": {"orient": "left", "values": [-1, 0, 1, 2, 3, 4, 5, 6], "format": "d", "ticks": false, "labelPadding": 4, "title": "Antenna Temperature (Ta)", "titlePadding": 18}},
            "y2": {"field": "hi"}
          }
        },
        {
          "data": {"values": [{}]},
          "mark": {"type": "point", "opacity": 0},
          "encoding": {
            "x": {"datum": 10.3, "type": "quantitative", "scale": {"domain": [9.55, 11.05], "nice": false, "zero": false}, "axis": {"orient": "bottom", "values": [9.6, 9.8, 10.0, 10.2, 10.4, 10.6, 10.8, 11.0], "labels": false, "tickSize": -6, "title": null}},
            "y": {"datum": 2, "type": "quantitative", "scale": {"domain": [-1.11, 6.18], "nice": false, "zero": false}, "axis": {"orient": "left", "values": [-1, 0, 1, 2, 3, 4, 5, 6], "labels": false, "tickSize": -17, "title": null}}
          }
        },
        {
          "data": {"values": [{}]},
          "mark": {"type": "point", "opacity": 0},
          "encoding": {
            "x": {"datum": 10.3, "type": "quantitative", "scale": {"domain": [9.55, 11.05], "nice": false, "zero": false}, "axis": {"orient": "bottom", "tickCount": 30, "labels": false, "tickSize": -3, "title": "Mon Sep 22 12:04:45 2025", "titleAnchor": "end", "titleFontSize": 12, "titleFontWeight": "bold", "titlePadding": 47}},
            "y": {"datum": 2, "type": "quantitative", "scale": {"domain": [-1.11, 6.18], "nice": false, "zero": false}, "axis": {"orient": "left", "tickCount": 146, "labels": false, "tickSize": -9, "title": null}}
          }
        },
        {
          "data": {"values": [{}]},
          "mark": {"type": "point", "opacity": 0},
          "encoding": {
            "x": {"datum": 10.3, "type": "quantitative", "scale": {"domain": [9.55, 11.05], "nice": false, "zero": false}, "axis": {"orient": "top", "values": [9.6, 9.8, 10.0, 10.2, 10.4, 10.6, 10.8, 11.0], "labels": false, "tickSize": -6, "title": "13 31 08.76\u00a0\u00a0\u00a0+30 30 26.7", "titleFont": "Liberation Mono", "titleFontSize": 13.25, "titleX": -48, "titleAlign": "left", "titleBaseline": "alphabetic", "titlePadding": 22}},
            "y": {"datum": 2, "type": "quantitative", "scale": {"domain": [-1.11, 6.18], "nice": false, "zero": false}, "axis": {"orient": "right", "values": [-1, 0, 1, 2, 3, 4, 5, 6], "labels": false, "tickSize": -17, "title": null}}
          }
        },
        {
          "data": {"values": [{}]},
          "mark": {"type": "point", "opacity": 0},
          "encoding": {
            "x": {"datum": 10.3, "type": "quantitative", "scale": {"domain": [9.55, 11.05], "nice": false, "zero": false}, "axis": {"orient": "top", "tickCount": 30, "labels": false, "tickSize": -3, "title": "Az:\u00a0263.7\u00a0\u00a0\u00a0El:\u00a061.6\u00a0\u00a0HA:\u00a0\u00a02.24", "titleFont": "Liberation Mono", "titleFontSize": 13.25, "titleX": 874, "titleAlign": "right", "titleBaseline": "alphabetic", "titlePadding": 22}},
            "y": {"datum": 2, "type": "quantitative", "scale": {"domain": [-1.11, 6.18], "nice": false, "zero": false}, "axis": {"orient": "right", "tickCount": 146, "labels": false, "tickSize": -9, "title": null}}
          }
        },
        {
          "data": {"values": [{}]},
          "mark": {"type": "point", "opacity": 0},
          "encoding": {
            "x": {"datum": 10.3, "type": "quantitative", "scale": {"domain": [9.55, 11.05], "nice": false, "zero": false}, "axis": {"orient": "top", "ticks": false, "labels": false, "title": "3C286", "titleColor": "#22cc22", "titleFont": "Liberation Mono", "titleFontSize": 22, "titleX": 409, "titleAlign": "center", "titleBaseline": "alphabetic", "titlePadding": 21}}
          }
        }
      ],
      "resolve": {"axis": {"x": "independent", "y": "independent"}}
    },
    {
      "width": 900, "height": 2,
      "view": {"stroke": null},
      "data": {"values": [{}]},
      "mark": {"type": "rule", "color": "white", "strokeWidth": 3},
      "encoding": {"y": {"datum": 0, "type": "quantitative", "scale": {"domain": [-1, 1]}, "axis": {"orient": "left", "values": [0], "labels": false, "domain": false, "tickSize": 103, "tickWidth": 3, "tickColor": "white", "title": null}}}
    },
    {
      "width": 879, "height": 262,
      "title": {
        "text": [
          "Scan\u00a0\u00a0\u00a0\u00a0\u00a0\u00a0\u00a0\u00a0\u00a014\u00a0\u00a0\u00a0\u00a0\u00a0\u00a0\u00a0\u00a0\u00a0\u00a0V\u00a0\u00a0\u00a0:\u00a0\u00a0\u00a0\u00a0\u00a0\u00a0\u00a0\u00a00.0 RADI-OBS\u00a0\u00a0\u00a0\u00a0\u00a0\u00a0\u00a0F0\u00a0\u00a0\u00a0\u00a0:\u00a011.30000 GHz\u00a0\u00a0\u00a0\u00a0\u00a0\u00a0Pol:\u00a0\u00a0\u00a0RR\u00a0\u00a0\u00a0\u00a0\u00a0\u00a0\u00a0\u00a0\u00a0\u00a0\u00a0Tsys:\u00a0\u00a0\u00a010.33",
          "2025-09-20\u00a0\u00a0\u00a0\u00a0\u00a0\u00a0\u00a0\u00a0\u00a0\u00a0\u00a0\u00a0\u00a0\u00a0\u00a0Int\u00a0:\u00a000 00 29.9\u00a0\u00a0\u00a0\u00a0\u00a0\u00a0\u00a0\u00a0\u00a0\u00a0\u00a0\u00a0\u00a0\u00a0\u00a0\u00a0Fsky\u00a0\u00a0:\u00a011.30000 GHz\u00a0\u00a0\u00a0\u00a0\u00a0\u00a0IF\u00a0:\u00a0\u00a0\u00a0\u00a03\u00a0\u00a0\u00a0\u00a0\u00a0\u00a0\u00a0\u00a0\u00a0\u00a0\u00a0Tcal:\u00a0\u00a0\u00a0\u00a01.37",
          "Larry Morgan\u00a0\u00a0\u00a0\u00a0\u00a0\u00a0\u00a0\u00a0\u00a0\u00a0\u00a0\u00a0\u00a0LST\u00a0:\u00a0+15 45 14.9\u00a0\u00a0\u00a0\u00a0\u00a0\u00a0\u00a0\u00a0\u00a0\u00a0\u00a0\u00a0\u00a0\u00a0\u00a0BW\u00a0\u00a0\u00a0\u00a0:\u00a0\u00a0\u00a01.5000 GHz\u00a0\u00a0\u00a0\u00a0\u00a0\u00a0TGBT25B_603_19\u00a0\u00a0\u00a0\u00a0\u00a0\u00a0OffOn"
        ],
        "anchor": "start", "frame": "group", "dx": -42, "offset": 9,
        "font": "Liberation Mono", "fontSize": 13.25, "fontWeight": "normal", "color": "white", "lineHeight": 17
      },
      "layer": [
        {
          "data": {"name": "p3"},
          "mark": {"type": "area", "color": "#ff0000", "stroke": "#ff0000", "strokeWidth": 1, "clip": true},
          "encoding": {
            "x": {"field": "f", "type": "quantitative", "scale": {"domain": [10.55, 12.05], "nice": false, "zero": false}, "axis": {"orient": "bottom", "values": [10.6, 10.8, 11.0, 11.2, 11.4, 11.6, 11.8, 12.0], "format": ".1f", "ticks": false, "labelPadding": 12, "title": "TOPO Frequency (GHz)", "titlePadding": 3}},
            "y": {"field": "lo", "type": "quantitative", "scale": {"domain": [-2.08, 2.11], "nice": false, "zero": false}, "axis": {"orient": "left", "values": [-2, -1, 0, 1, 2], "format": "d", "ticks": false, "labelPadding": 4, "title": "Antenna Temperature (Ta)", "titlePadding": 16}},
            "y2": {"field": "hi"}
          }
        },
        {
          "data": {"values": [{}]},
          "mark": {"type": "point", "opacity": 0},
          "encoding": {
            "x": {"datum": 11.3, "type": "quantitative", "scale": {"domain": [10.55, 12.05], "nice": false, "zero": false}, "axis": {"orient": "bottom", "values": [10.6, 10.8, 11.0, 11.2, 11.4, 11.6, 11.8, 12.0], "labels": false, "tickSize": -6, "title": null}},
            "y": {"datum": 0, "type": "quantitative", "scale": {"domain": [-2.08, 2.11], "nice": false, "zero": false}, "axis": {"orient": "left", "values": [-2, -1, 0, 1, 2], "labels": false, "tickSize": -17, "title": null}}
          }
        },
        {
          "data": {"values": [{}]},
          "mark": {"type": "point", "opacity": 0},
          "encoding": {
            "x": {"datum": 11.3, "type": "quantitative", "scale": {"domain": [10.55, 12.05], "nice": false, "zero": false}, "axis": {"orient": "bottom", "tickCount": 30, "labels": false, "tickSize": -3, "title": "Mon Sep 22 12:43:30 2025", "titleAnchor": "end", "titleFontSize": 12, "titleFontWeight": "bold", "titlePadding": 47}},
            "y": {"datum": 0, "type": "quantitative", "scale": {"domain": [-2.08, 2.11], "nice": false, "zero": false}, "axis": {"orient": "left", "tickCount": 42, "labels": false, "tickSize": -9, "title": null}}
          }
        },
        {
          "data": {"values": [{}]},
          "mark": {"type": "point", "opacity": 0},
          "encoding": {
            "x": {"datum": 11.3, "type": "quantitative", "scale": {"domain": [10.55, 12.05], "nice": false, "zero": false}, "axis": {"orient": "top", "values": [10.6, 10.8, 11.0, 11.2, 11.4, 11.6, 11.8, 12.0], "labels": false, "tickSize": -6, "title": "13 31 08.76\u00a0\u00a0\u00a0+30 30 26.7", "titleFont": "Liberation Mono", "titleFontSize": 13.25, "titleX": -42, "titleAlign": "left", "titleBaseline": "alphabetic", "titlePadding": 22}},
            "y": {"datum": 0, "type": "quantitative", "scale": {"domain": [-2.08, 2.11], "nice": false, "zero": false}, "axis": {"orient": "right", "values": [-2, -1, 0, 1, 2], "labels": false, "tickSize": -17, "title": null}}
          }
        },
        {
          "data": {"values": [{}]},
          "mark": {"type": "point", "opacity": 0},
          "encoding": {
            "x": {"datum": 11.3, "type": "quantitative", "scale": {"domain": [10.55, 12.05], "nice": false, "zero": false}, "axis": {"orient": "top", "tickCount": 30, "labels": false, "tickSize": -3, "title": "Az:\u00a0263.7\u00a0\u00a0\u00a0El:\u00a061.6\u00a0\u00a0HA:\u00a0\u00a02.24", "titleFont": "Liberation Mono", "titleFontSize": 13.25, "titleX": 876, "titleAlign": "right", "titleBaseline": "alphabetic", "titlePadding": 22}},
            "y": {"datum": 0, "type": "quantitative", "scale": {"domain": [-2.08, 2.11], "nice": false, "zero": false}, "axis": {"orient": "right", "tickCount": 42, "labels": false, "tickSize": -9, "title": null}}
          }
        },
        {
          "data": {"values": [{}]},
          "mark": {"type": "point", "opacity": 0},
          "encoding": {
            "x": {"datum": 11.3, "type": "quantitative", "scale": {"domain": [10.55, 12.05], "nice": false, "zero": false}, "axis": {"orient": "top", "ticks": false, "labels": false, "title": "3C286", "titleColor": "#22cc22", "titleFont": "Liberation Mono", "titleFontSize": 22, "titleX": 414, "titleAlign": "center", "titleBaseline": "alphabetic", "titlePadding": 21}}
          }
        }
      ],
      "resolve": {"axis": {"x": "independent", "y": "independent"}}
    }
  ]
}
